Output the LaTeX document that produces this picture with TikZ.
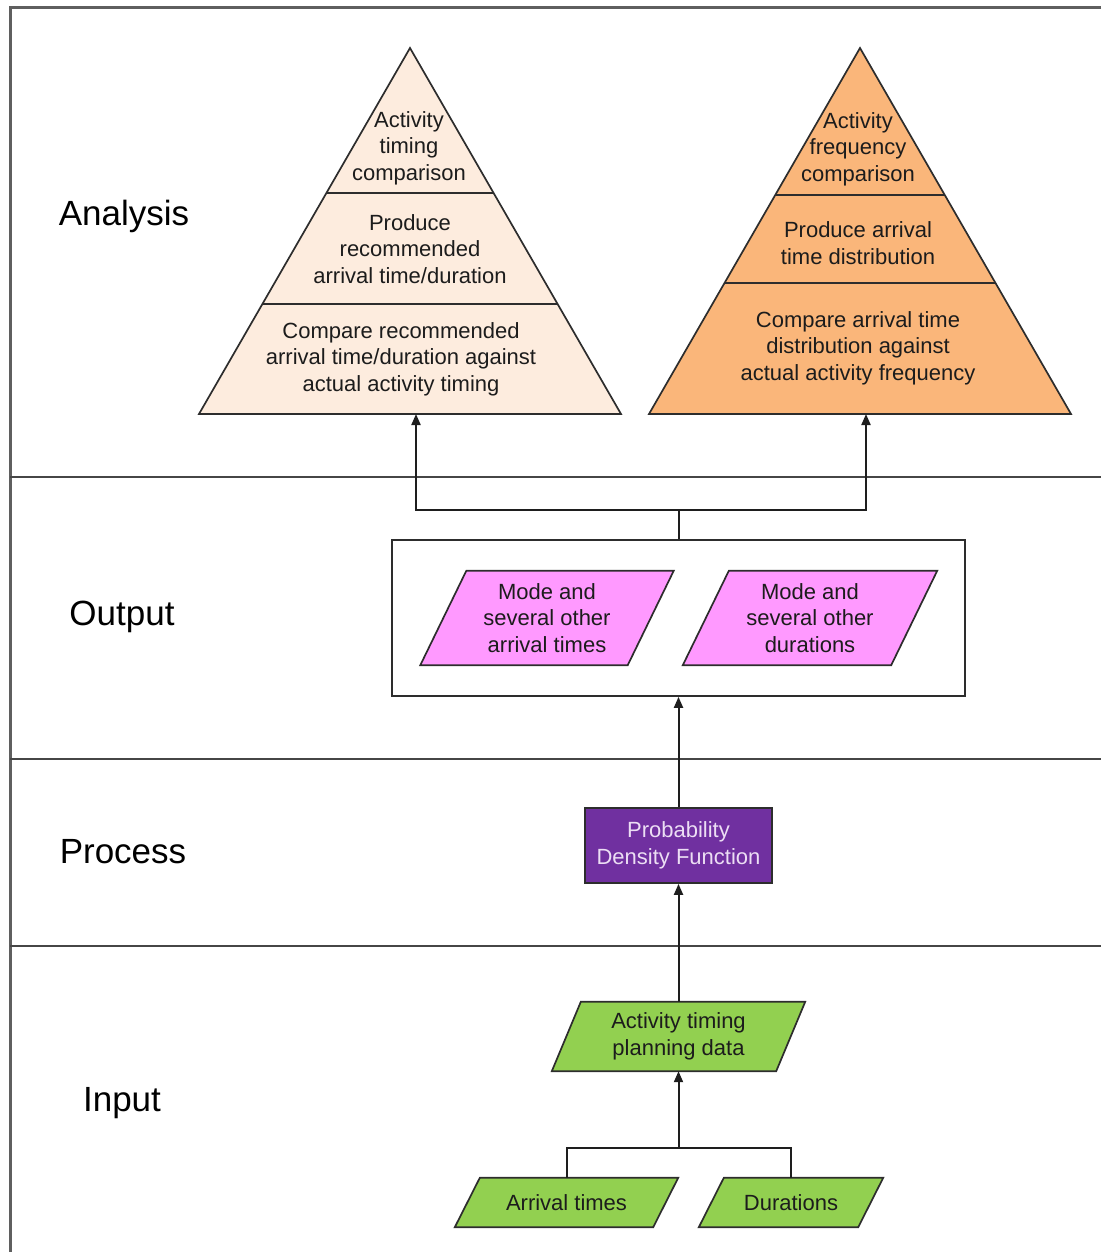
\documentclass[tikz,border=0pt]{standalone}
\usepackage{fontspec}
\setmainfont{Liberation Sans}
\usetikzlibrary{arrows.meta,backgrounds,calc}

\definecolor{peach}{RGB}{253,236,222}
\definecolor{apricot}{RGB}{250,182,122}
\definecolor{pinkbox}{RGB}{255,153,255}
\definecolor{greenbox}{RGB}{146,208,80}
\definecolor{purplebox}{RGB}{112,48,160}
\definecolor{lavtext}{RGB}{236,222,244}
\definecolor{txt}{RGB}{28,28,28}
\definecolor{edge}{RGB}{45,45,45}
\definecolor{linec}{RGB}{30,30,30}
\definecolor{sepc}{RGB}{70,70,70}
\definecolor{framec}{RGB}{95,95,95}

\tikzset{
  body/.style={font=\fontsize{22}{26.5}\selectfont, text=txt, align=center, inner sep=0pt},
  section/.style={font=\fontsize{35}{40}\selectfont, text=black, inner sep=0pt},
  conn/.style={line width=2pt, draw=linec},
  arr/.style={conn, -{Triangle[length=11pt,width=9pt]}},
  sep/.style={line width=2pt, draw=sepc},
  outline/.style={line width=1.7pt, draw=edge},
}

% slanted data box: name, x, y, edge width, height, slant, fill, text
\newcommand{\slantbox}[8]{%
  \node[body, minimum width=#4pt, minimum height=#5pt] (#1) at (#2,#3) {#8};
  \begin{scope}[on background layer]
    \draw[outline, fill=#7]
      ($(#1.south west)+(-#6/2,0)$) -- ($(#1.north west)+(#6/2,0)$) --
      ($(#1.north east)+(#6/2,0)$) -- ($(#1.south east)+(-#6/2,0)$) -- cycle;
  \end{scope}}

\begin{document}
\begin{tikzpicture}[x=1pt,y=-1pt]
\useasboundingbox (0,0) rectangle (1101,1252);

% frame and lane separators
\draw[line width=3pt, draw=framec] (1101,8) -- (10,8) -- (10,1252);
\foreach \yy in {477,759,946}
  \draw[sep] (10,\yy) -- (1101,\yy);

% lane titles
\node[section] (lanA) at (124,216) {Analysis};
\node[section] (lanO) at (122,617) {Output};
\node[section] (lanP) at (123,852) {Process};
\node[section] (lanI) at (122,1103) {Input};

% left pyramid
\coordinate (la) at (410,48);
\coordinate (ll) at (199,414);
\coordinate (lr) at (621,414);
\draw[outline, fill=peach] (ll) -- (la) -- (lr) -- cycle;
\draw[outline] ($(la)!0.396!(ll)$) -- ($(la)!0.396!(lr)$);
\draw[outline] ($(la)!0.699!(ll)$) -- ($(la)!0.699!(lr)$);
\node[body] (l1) at (409,148) {Activity\\timing\\comparison};
\node[body] (l2) at (410,249) {Produce\\recommended\\arrival time/duration};
\node[body] (l3) at (401,359) {Compare recommended\\arrival time/duration against\\actual activity timing};

% right pyramid
\coordinate (ra) at (860,48);
\coordinate (rl) at (649,414);
\coordinate (rr) at (1071,414);
\draw[outline, fill=apricot] (rl) -- (ra) -- (rr) -- cycle;
\draw[outline] ($(ra)!0.4016!(rl)$) -- ($(ra)!0.4016!(rr)$);
\draw[outline] ($(ra)!0.642!(rl)$) -- ($(ra)!0.642!(rr)$);
\node[body] (r1) at (858,149) {Activity\\frequency\\comparison};
\node[body] (r2) at (858,243) {Produce arrival\\time distribution};
\node[body] (r3) at (858,348) {Compare arrival time\\distribution against\\actual activity frequency};

% pyramid entry points
\coordinate (lfoot) at (416,414);
\coordinate (rfoot) at (866,414);

% output group
\node[draw=edge, line width=1.7pt, minimum width=573pt, minimum height=156pt, inner sep=0pt] (outbox) at (678.5,618) {};
\slantbox{modeA}{547}{618}{207}{94}{46}{pinkbox}{Mode and\\several other\\arrival times}
\slantbox{modeD}{810}{618}{208}{94}{46}{pinkbox}{Mode and\\several other\\durations}

% process
\node[draw=edge, line width=1.7pt, fill=purplebox, minimum width=187pt, minimum height=75pt, inner sep=0pt,
      font=\fontsize{22}{26.5}\selectfont, text=lavtext, align=center] (pdf) at (678.5,845.5)
      {Probability\\Density Function};

% inputs
\slantbox{plan}{678.5}{1036.5}{224}{69}{29}{greenbox}{Activity timing\\planning data}
\slantbox{arrv}{566.5}{1202.5}{198}{49}{25}{greenbox}{Arrival times}
\slantbox{durs}{791}{1202.5}{159}{49}{25}{greenbox}{Durations}

% connectors
\coordinate (join) at (678.5,1148);
\coordinate (split) at (678.5,510);
\draw[conn] (arrv.north) |- (join);
\draw[conn] (durs.north) |- (join);
\draw[arr] (join) -- (plan.south);
\draw[arr] (plan.north) -- (pdf.south);
\draw[arr] (pdf.north) -- (outbox.south);
\draw[conn] (outbox.north) -- (split);
\draw[arr] (split) -| (lfoot);
\draw[arr] (split) -| (rfoot);
\end{tikzpicture}
\end{document}
